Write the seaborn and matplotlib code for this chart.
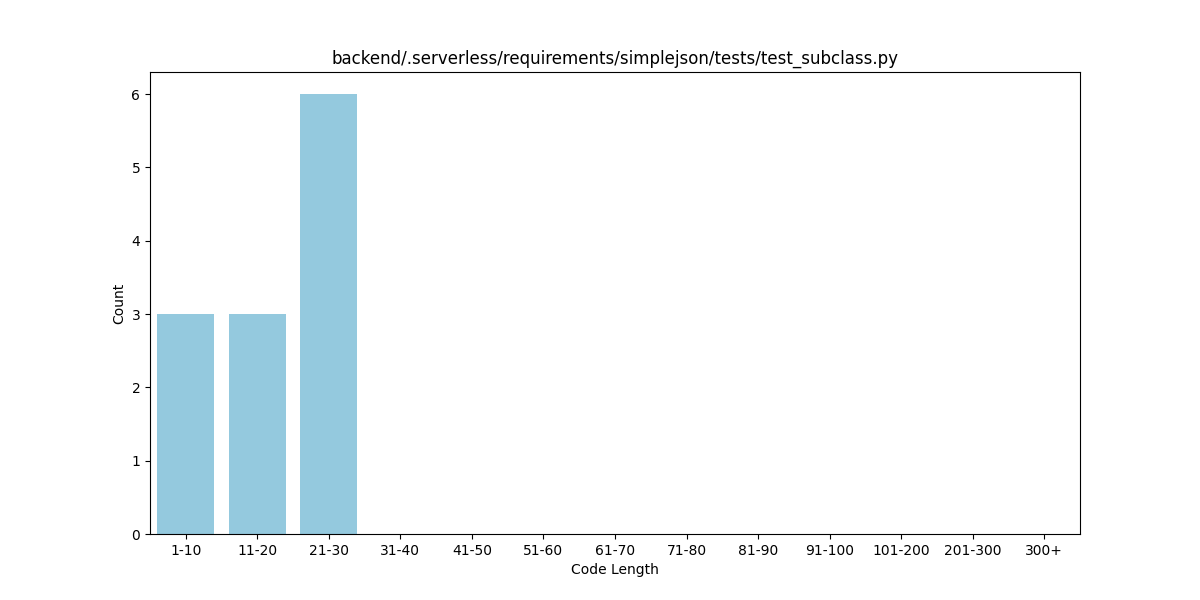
import matplotlib
matplotlib.use("Agg")
import matplotlib.pyplot as plt
import seaborn as sns
import pandas as pd

categories = ["1-10", "11-20", "21-30", "31-40", "41-50", "51-60", "61-70",
              "71-80", "81-90", "91-100", "101-200", "201-300", "300+"]
counts = [3, 3, 6, 0, 0, 0, 0, 0, 0, 0, 0, 0, 0]

df = pd.DataFrame({"Code Length": categories, "Count": counts})

fig, ax = plt.subplots(figsize=(12, 6), dpi=100)
sns.barplot(data=df, x="Code Length", y="Count", color="skyblue", ax=ax)
ax.set_title("backend/.serverless/requirements/simplejson/tests/test_subclass.py")
ax.set_xlabel("Code Length")
ax.set_ylabel("Count")
fig.savefig("out.png", dpi=100)
